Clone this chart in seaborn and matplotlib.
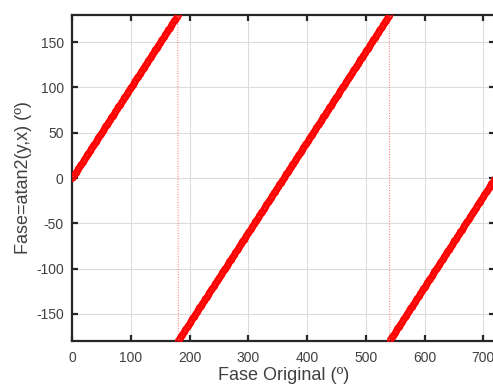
import numpy as np
import matplotlib
matplotlib.use("Agg")
import matplotlib.pyplot as plt
import seaborn as sns

# fase original en grados (muestreo de 1 grado) y límites de los ejes
fase_inicio = 0
fase_fin = 720
paso = 1
x_ticks = [0, 100, 200, 300, 400, 500, 600, 700]
y_ticks = [-150, -100, -50, 0, 50, 100, 150]

fase_original = np.arange(fase_inicio, fase_fin + paso, paso)
rad = np.deg2rad(fase_original)
# fase recuperada con atan2(y, x)
fase_atan2 = np.rad2deg(np.arctan2(np.sin(rad), np.cos(rad)))

sns.set_theme(style="whitegrid")
plt.rcParams["font.family"] = ["Liberation Sans", "DejaVu Sans"]
plt.rcParams["axes.unicode_minus"] = False

fig = plt.figure(figsize=(4.93, 3.92), dpi=100)
ax = fig.add_axes([72 / 493, 51 / 392, 423 / 493, 326 / 392])

# línea punteada fina entre muestras (se ve en los saltos de 180 a -180)
ax.plot(fase_original, fase_atan2, color="#ff6060", linestyle=":",
        linewidth=0.7, zorder=2)
# marcadores circulares huecos
sns.lineplot(x=fase_original, y=fase_atan2, ax=ax, color="red", linestyle="none",
             marker="o", markersize=4.2, markerfacecolor="none",
             markeredgecolor="red", markeredgewidth=0.7, sort=False,
             estimator=None, zorder=3)

ax.set_xlim(fase_inicio, fase_fin)
ax.set_ylim(-180, 180)
ax.set_xticks(x_ticks)
ax.set_yticks(y_ticks)
ax.grid(True, color="#dcdcdc", linewidth=0.8)
ax.set_facecolor("white")

for s in ax.spines.values():
    s.set_visible(True)
    s.set_color("#262626")
    s.set_linewidth(1.6)

ax.tick_params(direction="in", length=4, width=1.6, color="#262626",
               labelsize=10, labelcolor="#404040",
               top=True, right=True, bottom=True, left=True)
ax.tick_params(axis="x", pad=7)
ax.tick_params(axis="y", pad=6)

ax.set_xlabel("Fase Original (º)", fontsize=13, color="#404040", labelpad=2)
ax.set_ylabel("Fase=atan2(y,x) (º)", fontsize=13, color="#404040", labelpad=3)

fig.savefig("out.png", dpi=100)
